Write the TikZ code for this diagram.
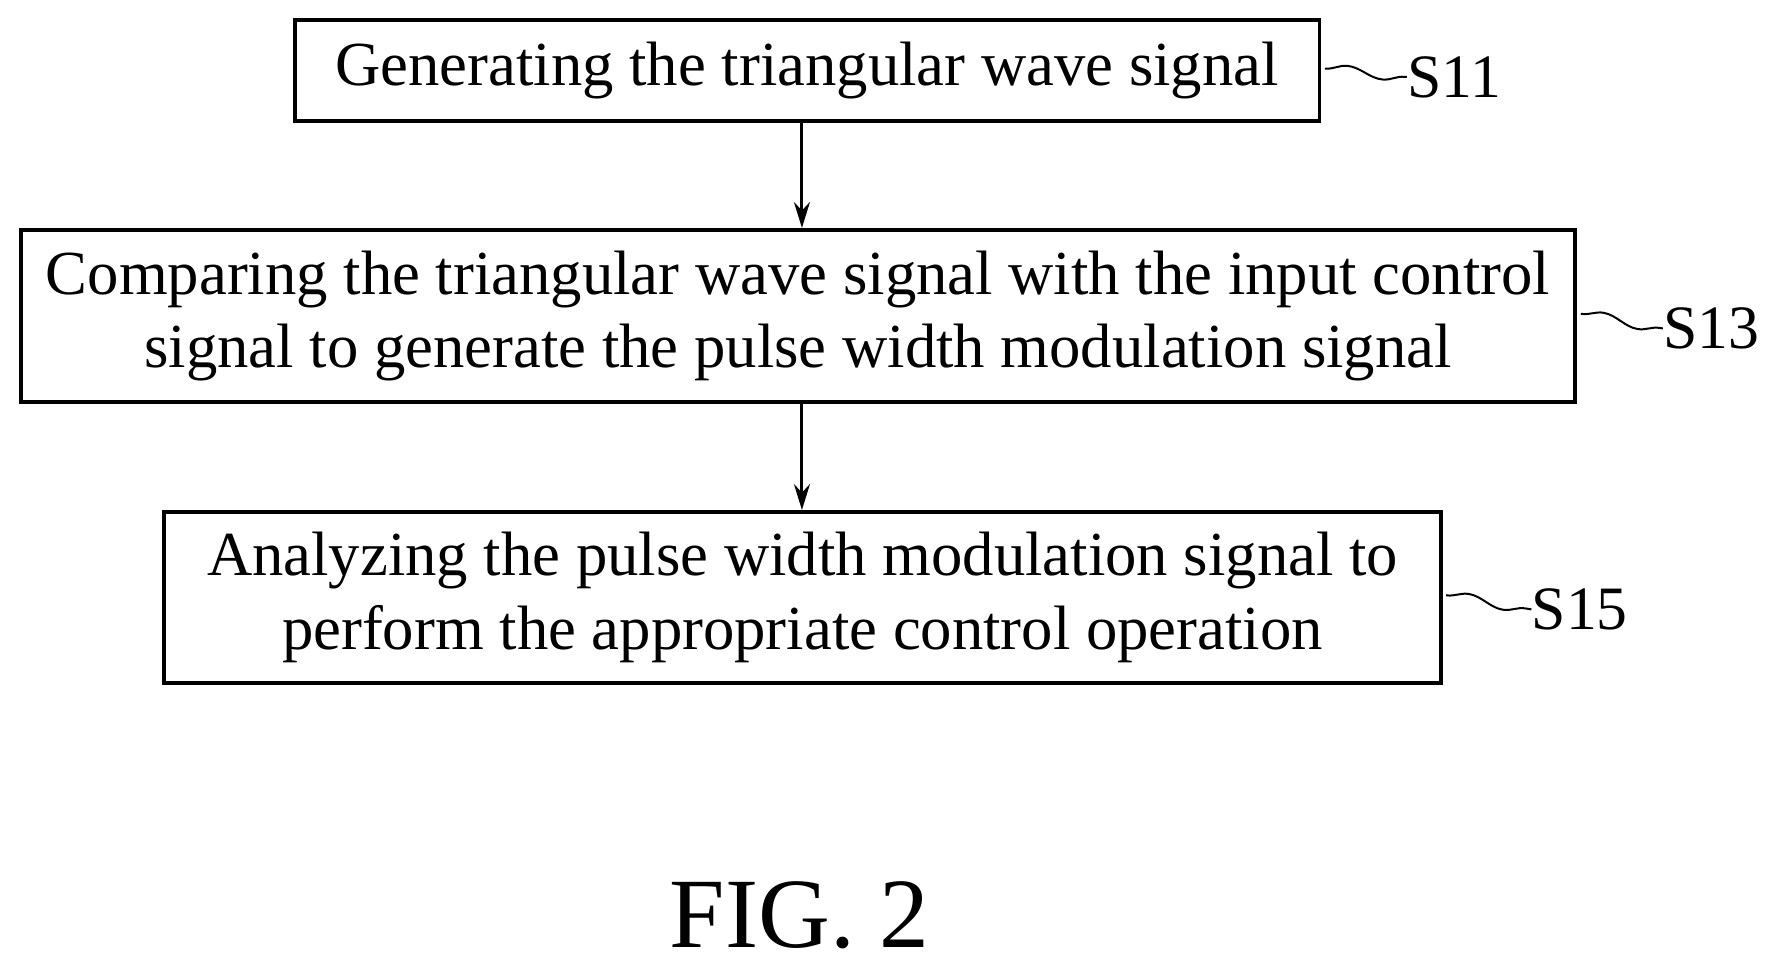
\documentclass[tikz,border=0pt]{standalone}
\usepackage{fontspec}
\setmainfont{Liberation Serif}
\usetikzlibrary{arrows.meta, decorations.pathmorphing}

\begin{document}
\begin{tikzpicture}
                        [
                            x=0.02cm, y=-0.02cm,
                            stepbox/.style = {draw, shape=rectangle, line width=2pt, inner sep=0pt, align=center, font=\fontsize{31.5}{37}\selectfont},
                            steplabel/.style = {anchor=west, inner sep=0pt, font=\fontsize{31}{36}\selectfont},
                            squiggle/.style = {line width=1pt, decorate, decoration={snake, amplitude=2.5pt, segment length=36pt}},
                        ]
                        \useasboundingbox (0,0) rectangle (1560,856);

                        \node[stepbox, minimum width=18.1cm, minimum height=1.78cm] (s11) at (712.5,62.5)   {Generating the triangular wave signal};
                        \node[stepbox, minimum width=27.46cm, minimum height=3.04cm] (s13) at (704.5,279)   {Comparing the triangular wave signal with the input control\\signal to generate the pulse width modulation signal};
                        \node[stepbox, minimum width=22.54cm, minimum height=3.02cm] (s15) at (708.5,527.5)   {Analyzing the pulse width modulation signal to\\perform the appropriate control operation};

                        \node[steplabel] (l11) at (1242,68)   {S11};
                        \node[steplabel] (l13) at (1468,290)   {S13};
                        \node[steplabel] (l15) at (1352,538)   {S15};

                        \node[font=\fontsize{50}{54}\selectfont] (fig) at (706,808)   {FIG. 2};

                        \draw [-{Stealth[length=13pt, width=8pt]}, line width=1.5pt] (s11.south -| 708,0) -- (s13.north -| 708,0);
                        \draw [-{Stealth[length=13pt, width=8pt]}, line width=1.5pt] (s13.south -| 708,0) -- (s15.north -| 708,0);

                        \draw [squiggle] (s11.east) ++(3,-2) -- (l11.west);
                        \draw [squiggle] (s13.east) ++(3,-2) -- (l13.west);
                        \draw [squiggle] (s15.east) ++(3,-2) -- (l15.west);

                    \end{tikzpicture}
\end{document}
